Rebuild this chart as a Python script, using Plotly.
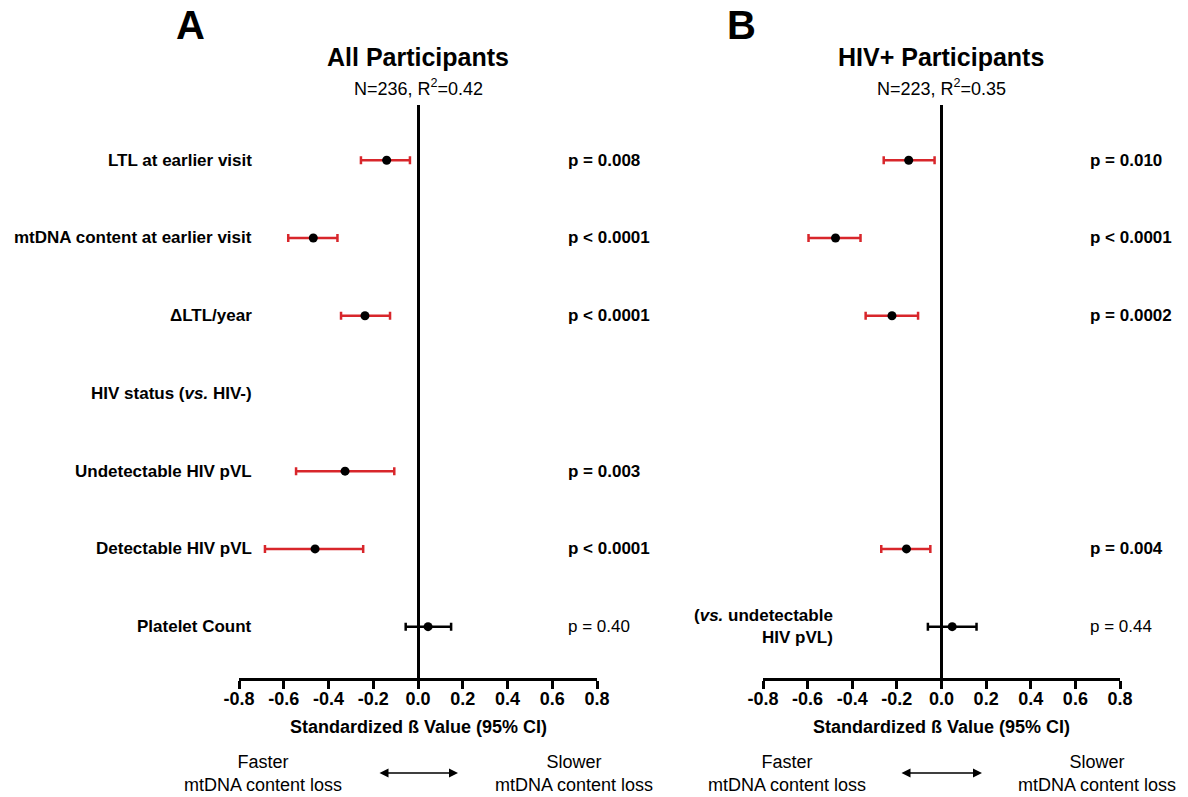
import plotly.graph_objects as go

W, H = 1188, 797

# ---------------- data ----------------
rows = ["LTL at earlier visit", "mtDNA content at earlier visit", "\u0394LTL/year",
        "HIV status (<i>vs.</i> HIV-)", "Undetectable HIV pVL", "Detectable HIV pVL",
        "Platelet Count"]

beta_a = [-0.140, -0.468, -0.237, None, -0.326, -0.460, 0.045]
lo_a = [-0.255, -0.580, -0.344, None, -0.545, -0.684, -0.055]
hi_a = [-0.036, -0.360, -0.125, None, -0.106, -0.245, 0.148]
p_a = ["p = 0.008", "p < 0.0001", "p < 0.0001", "", "p = 0.003", "p < 0.0001", "p = 0.40"]
sig_a = [True, True, True, False, True, True, False]

beta_b = [-0.147, -0.475, -0.222, None, None, -0.157, 0.048]
lo_b = [-0.259, -0.596, -0.340, None, None, -0.270, -0.061]
hi_b = [-0.031, -0.363, -0.105, None, None, -0.050, 0.157]
p_b = ["p = 0.010", "p < 0.0001", "p = 0.0002", "", "", "p = 0.004", "p = 0.44"]
sig_b = [True, True, True, False, False, True, False]

b_note = "(<i>vs.</i> undetectable<br>HIV pVL)"

ticks = [-0.8, -0.6, -0.4, -0.2, 0.0, 0.2, 0.4, 0.6, 0.8]
tick_text = ["-0.8", "-0.6", "-0.4", "-0.2", "0.0", "0.2", "0.4", "0.6", "0.8"]

# ---------------- figure ----------------
FONT = "Liberation Sans, Arial, sans-serif"
RED = "#d8262b"

fig = go.Figure()


def add_panel(beta, lo, hi, sig, xa, ya):
    for color, want in ((RED, True), ("black", False)):
        xs, ys, ep, em = [], [], [], []
        for i, b in enumerate(beta):
            if b is None or sig[i] != want:
                continue
            xs.append(b)
            ys.append(i)
            ep.append(hi[i] - b)
            em.append(b - lo[i])
        if not xs:
            continue
        fig.add_trace(go.Scatter(
            x=xs, y=ys, mode="markers", xaxis=xa, yaxis=ya,
            marker=dict(color="black", size=9),
            error_x=dict(type="data", symmetric=False, array=ep, arrayminus=em,
                         color=color, thickness=2.5, width=4),
            showlegend=False, hoverinfo="x+y"))


add_panel(beta_a, lo_a, hi_a, sig_a, "x", "y")
add_panel(beta_b, lo_b, hi_b, sig_b, "x2", "y2")

ydom = [1 - 678 / H, 1 - 105 / H]
yrange = [6.66, -0.71]

xcommon = dict(range=[-0.8, 0.8], tickvals=ticks, ticktext=tick_text,
               showgrid=False, showline=True, linecolor="black", linewidth=2.5,
               ticks="outside", ticklen=8, tickwidth=2.5, tickcolor="black",
               ticklabelstandoff=-5,
               tickfont=dict(family=FONT, size=18, color="black", weight="bold"),
               zeroline=True, zerolinecolor="black", zerolinewidth=2.5,
               fixedrange=True, automargin=False)
ycommon = dict(range=yrange, domain=ydom, showgrid=False, zeroline=False,
               showline=False, showticklabels=False, ticks="", fixedrange=True,
               automargin=False)

fig.update_layout(
    width=W, height=H, margin=dict(l=0, r=0, t=0, b=0, autoexpand=False),
    paper_bgcolor="white", plot_bgcolor="white",
    font=dict(family=FONT, color="black"),
    xaxis=dict(domain=[239 / W, 597 / W], anchor="y", **xcommon),
    yaxis=dict(anchor="x", **ycommon),
    xaxis2=dict(domain=[763 / W, 1120 / W], anchor="y2", **xcommon),
    yaxis2=dict(anchor="x2", **ycommon),
)

ann = []


def py(pix):
    return 1 - pix / H


# row labels panel A
for i, r in enumerate(rows):
    ann.append(dict(text="<b>" + r + "</b>", x=254 / W, xref="paper", y=i, yref="y",
                    xanchor="right", yanchor="middle", showarrow=False,
                    font=dict(size=17)))
# note in panel B
ann.append(dict(text="<b>" + b_note + "</b>", x=835 / W, xref="paper", y=6, yref="y2",
                xanchor="right", yanchor="middle", align="right", showarrow=False,
                font=dict(size=17)))

# p-values
for pl, sg, yr, xp in ((p_a, sig_a, "y", 566), (p_b, sig_b, "y2", 1088)):
    for i, t in enumerate(pl):
        if not t:
            continue
        txt = "<b>" + t + "</b>" if sg[i] else t
        ann.append(dict(text=txt, x=xp / W, xref="paper", y=i, yref=yr, xanchor="left",
                        yanchor="middle", showarrow=False, font=dict(size=17)))

# titles
for letter, lx, title, sub, cx in (("A", 190, "All Participants", "N=236, R<sup>2</sup>=0.42", 418),
                                    ("B", 741, "HIV+ Participants", "N=223, R<sup>2</sup>=0.35", 941)):
    ann.append(dict(text="<b>" + letter + "</b>", x=lx / W, y=py(25), xref="paper", yref="paper",
                    xanchor="center", yanchor="middle", showarrow=False, font=dict(size=40)))
    ann.append(dict(text="<b>" + title + "</b>", x=cx / W, y=py(57), xref="paper", yref="paper",
                    xanchor="center", yanchor="middle", showarrow=False, font=dict(size=25)))
    ann.append(dict(text=sub, x=cx / W, y=py(87), xref="paper", yref="paper",
                    xanchor="center", yanchor="middle", showarrow=False, font=dict(size=18)))
    ann.append(dict(text="<b>Standardized \u00df Value (95% CI)</b>", x=cx / W, y=py(727),
                    xref="paper", yref="paper", xanchor="center", yanchor="middle",
                    showarrow=False, font=dict(size=18)))

# bottom direction labels + arrows
for fx, a0, a1, sx in ((263, 378, 458, 574), (787, 900, 982, 1097)):
    ann.append(dict(text="Faster<br>mtDNA content loss", x=fx / W, y=py(773), xref="paper",
                    yref="paper", xanchor="center", yanchor="middle", align="center",
                    showarrow=False, font=dict(size=18)))
    ann.append(dict(text="Slower<br>mtDNA content loss", x=sx / W, y=py(773), xref="paper",
                    yref="paper", xanchor="center", yanchor="middle", align="center",
                    showarrow=False, font=dict(size=18)))
    ann.append(dict(text="", x=a1 / W, y=py(773), ax=-(a1 - a0), ay=0, xref="paper",
                    yref="paper", axref="pixel", ayref="pixel", showarrow=True,
                    arrowhead=2, startarrowhead=2, arrowside="end+start",
                    arrowwidth=1.5, arrowsize=1.2, startarrowsize=1.2, arrowcolor="black"))

fig.update_layout(annotations=ann)
fig.write_html("out.html")
